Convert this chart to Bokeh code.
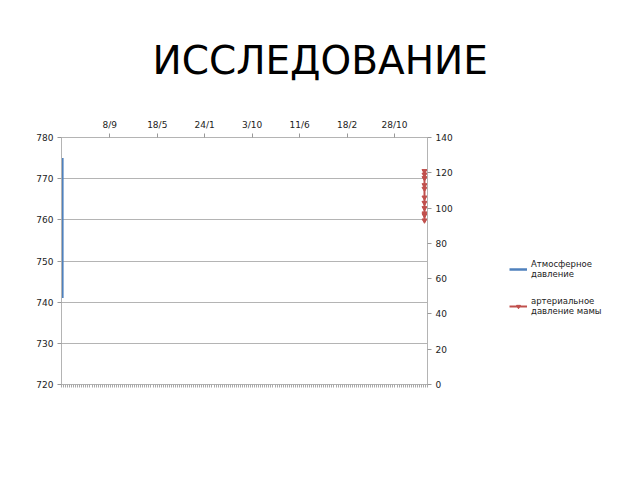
from bokeh.plotting import figure
from bokeh.layouts import row
from bokeh.models import (Range1d, LinearAxis, FixedTicker, SingleIntervalTicker,
                          Legend, LegendItem, Grid)
from bokeh.embed import file_html
from bokeh.resources import INLINE

# ---- data ----
title_text = "ИССЛЕДОВАНИЕ"
series_names = ["Атмосферное\nдавление", "артериальное\nдавление мамы"]
# atmospheric pressure (mm Hg), all recorded on the same date (day 0)
atm_values = [757, 775, 741, 750, 768, 745, 760, 752]
atm_day = 0
# mother's blood pressure, all on one date at the end of the date axis
bp_values = [121, 119, 117, 113, 111, 106, 103, 100, 97, 96, 93]
bp_day = 1923
# date axis (top) tick positions (days) and labels
top_tick_days = [252, 504, 756, 1008, 1260, 1512, 1764]
top_tick_labels = ["8/9", "18/5", "24/1", "3/10", "11/6", "18/2", "28/10"]
n_categories = 180

BLUE = "#4F81BD"
RED = "#C0504D"
GRID = "#b4b4b4"
FONT = "DejaVu Sans"

p = figure(width=500, height=464, output_backend="svg", toolbar_location=None,
           x_range=Range1d(-4.5, 1939), y_range=Range1d(720, 780),
           x_axis_location=None, y_axis_location=None,
           min_border_left=61, min_border_right=73,
           min_border_top=137, min_border_bottom=80)
p.grid.visible = False
p.extra_y_ranges = {"bp": Range1d(0, 140)}
p.extra_x_ranges = {"cat": Range1d(0, n_categories)}
p.outline_line_color = GRID
p.outline_line_width = 1
p.background_fill_color = "white"
p.border_fill_color = "white"

def style(ax):
    ax.axis_line_color = GRID
    ax.major_tick_line_color = "#999999"
    ax.major_tick_in = 0
    ax.major_tick_out = 4
    ax.minor_tick_line_color = None
    ax.major_label_text_font = FONT
    ax.major_label_text_font_size = "9px"
    ax.major_label_text_color = "#222222"
    ax.major_label_standoff = 4

left = LinearAxis(ticker=SingleIntervalTicker(interval=10, num_minor_ticks=0))
style(left)
p.add_layout(left, "left")

right = LinearAxis(y_range_name="bp", ticker=SingleIntervalTicker(interval=20, num_minor_ticks=0))
style(right)
p.add_layout(right, "right")

top = LinearAxis(ticker=FixedTicker(ticks=top_tick_days),
                 major_label_overrides={d: l for d, l in zip(top_tick_days, top_tick_labels)})
style(top)
top.axis_line_color = None
p.add_layout(top, "above")

bottom = LinearAxis(x_range_name="cat",
                    ticker=FixedTicker(ticks=[], minor_ticks=list(range(n_categories + 1))))
style(bottom)
bottom.major_tick_line_color = None
bottom.minor_tick_line_color = "#a8a8a8"
bottom.minor_tick_in = 0
bottom.minor_tick_out = 3
p.add_layout(bottom, "below")

p.add_layout(Grid(dimension=1, ticker=left.ticker, grid_line_color=GRID, grid_line_width=1))

p.line(x=[atm_day] * len(atm_values), y=atm_values, line_color=BLUE, line_width=2.5)
p.line(x=[bp_day] * len(bp_values), y=bp_values, y_range_name="bp",
       line_color=RED, line_width=2)
p.scatter(x=[bp_day] * len(bp_values), y=bp_values, y_range_name="bp",
          marker="inverted_triangle", size=5, fill_color=RED, line_color=RED)

p.title.text = title_text
p.title.align = "left"
p.title.offset = 91
p.title.text_font = FONT
p.title.text_font_size = "39px"
p.title.text_font_style = "normal"
p.title.text_color = "black"
p.title.standoff = 67

# legend panel to the right of the chart (series drawn out of view, used only for keys)
lg = figure(width=124, height=464, output_backend="svg", toolbar_location=None,
            x_range=Range1d(5000, 5001), y_range=Range1d(0, 1),
            x_axis_location=None, y_axis_location=None,
            min_border=0)
lg.grid.visible = False
lg.outline_line_color = None
lg.border_fill_color = "white"
k_atm = lg.line(x=[atm_day] * len(atm_values), y=atm_values, line_color=BLUE, line_width=2.5)
k_bp_line = lg.line(x=[bp_day] * len(bp_values), y=bp_values, line_color=RED, line_width=2)
k_bp_pts = lg.scatter(x=[bp_day] * len(bp_values), y=bp_values, marker="inverted_triangle",
                      size=5, fill_color=RED, line_color=RED)
legend = Legend(items=[LegendItem(label=series_names[0], renderers=[k_atm]),
                       LegendItem(label=series_names[1], renderers=[k_bp_line, k_bp_pts])],
                location=(9, 68), padding=0, margin=0, spacing=17,
                glyph_width=18, glyph_height=10, label_standoff=4,
                label_text_font=FONT, label_text_font_size="8.5px",
                label_text_line_height=1.35, label_text_baseline="top",
                label_text_color="#222222", border_line_color=None,
                background_fill_alpha=0)
lg.add_layout(legend, "center")

open("out.html", "w").write(file_html(row(p, lg), INLINE))
